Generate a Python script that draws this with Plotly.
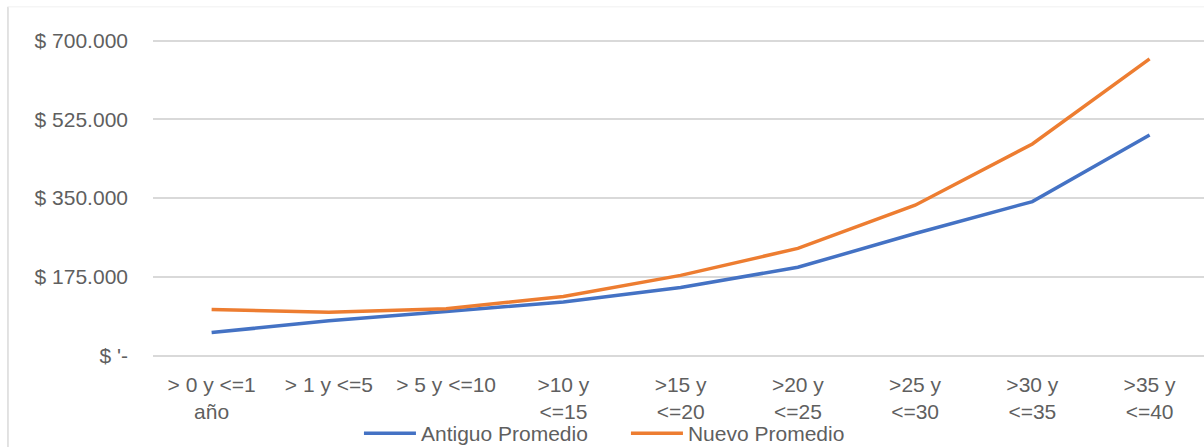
import plotly.graph_objects as go

categories = ["> 0 y <=1<br>año", "> 1 y <=5", "> 5 y <=10", ">10 y<br><=15", ">15 y<br><=20",
              ">20 y<br><=25", ">25 y<br><=30", ">30 y<br><=35", ">35 y<br><=40"]
antiguo = [51000, 77000, 98000, 119000, 151000, 196000, 271000, 342000, 490000]
nuevo = [102000, 96000, 104000, 131000, 178000, 238000, 334000, 470000, 659000]
ytick_vals = [0, 175000, 350000, 525000, 700000]
ytick_text = ["$ '-", "$ 175.000", "$ 350.000", "$ 525.000", "$ 700.000"]

fig = go.Figure()
fig.add_trace(go.Scatter(x=categories, y=antiguo, mode="lines", name="Antiguo Promedio",
                         line=dict(color="#4472C4", width=3.5)))
fig.add_trace(go.Scatter(x=categories, y=nuevo, mode="lines", name="Nuevo Promedio",
                         line=dict(color="#ED7D31", width=3.5)))

fig.update_layout(
    width=1204, height=447,
    margin=dict(l=153, r=0, t=36, b=87, autoexpand=False),
    plot_bgcolor="white", paper_bgcolor="white",
    font=dict(family="Liberation Sans, Arial", size=21, color="#5f5f5f"),
    showlegend=True,
    legend=dict(orientation="h", x=0.45, xanchor="center", yref="paper", y=-0.227, yanchor="middle",
                font=dict(size=21, color="#5f5f5f"), itemwidth=52, tracegroupgap=0,
                entrywidth=200, bgcolor="rgba(0,0,0,0)", borderwidth=0),
    xaxis=dict(type="category", range=[-0.5, 8.464], showgrid=False, zeroline=False,
               showline=False, ticks="", ticklabelstandoff=10, tickangle=0, automargin=False),
    yaxis=dict(range=[-10000, 710000], tickvals=ytick_vals, ticktext=ytick_text,
               showgrid=True, gridcolor="#D9D9D9", gridwidth=2, zeroline=False,
               showline=False, ticks="", ticklabelstandoff=24, automargin=False),
    shapes=[
        dict(type="line", xref="paper", yref="paper", x0=-0.138, x1=-0.138, y0=-0.3, y1=1.09,
             line=dict(color="#D9D9D9", width=1.5)),
        dict(type="line", xref="paper", yref="paper", x0=-0.138, x1=1.0, y0=1.09, y1=1.09,
             line=dict(color="#F0F0F0", width=1)),
    ],
)

fig.write_html("out.html")
